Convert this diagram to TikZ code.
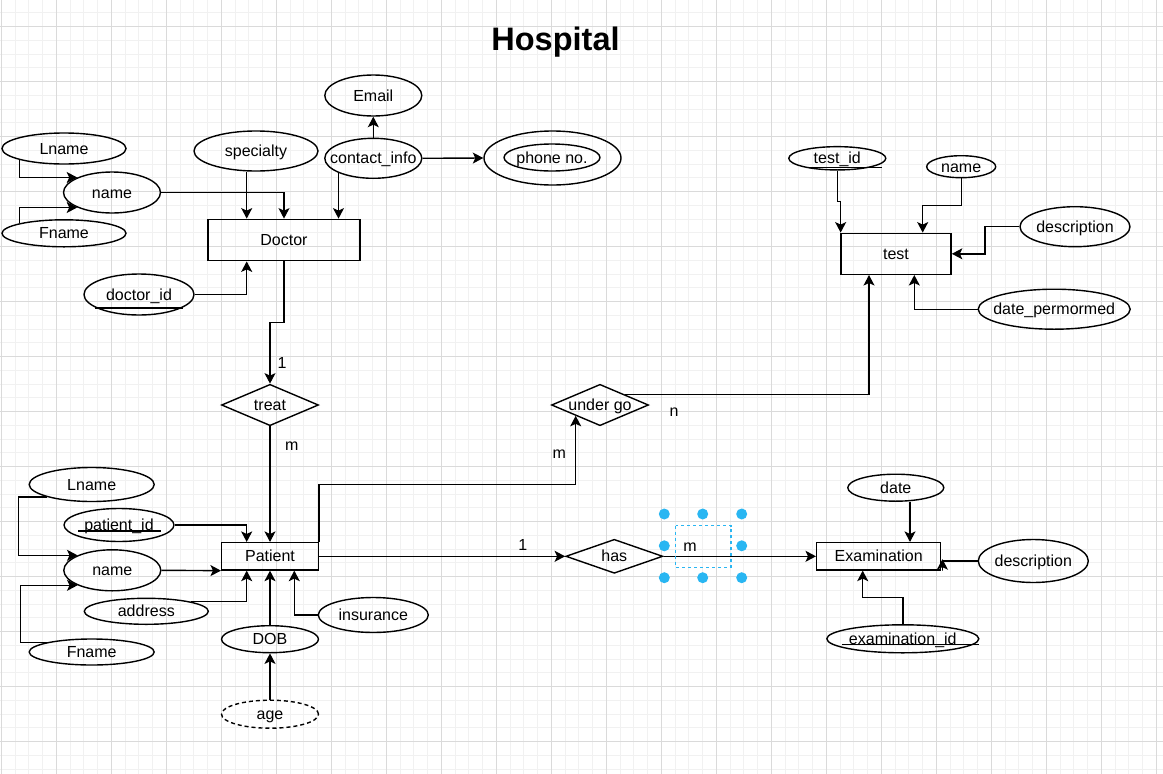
\documentclass[tikz,border=0pt]{standalone}
\usepackage{fontspec}
\setmainfont{Liberation Sans}
\usetikzlibrary{shapes.geometric,arrows.meta,calc}
\newcommand\T[1]{\smash{\makebox[0pt]{\raisebox{-0.35em}{#1}}}}
\definecolor{gmaj}{HTML}{DADADA}
\definecolor{gmin}{HTML}{F1F1F1}
\definecolor{selblue}{HTML}{29B6F2}
\begin{document}
\begin{tikzpicture}[x=1pt,y=-1pt,
  every node/.style={font=\fontsize{16}{19}\selectfont, inner sep=0pt, text=black},
  ent/.style 2 args={draw, rectangle, line width=1.4pt, minimum width=#1, minimum height=#2},
  ell/.style 2 args={draw, ellipse, line width=1.4pt, minimum width=#1, minimum height=#2},
  rel/.style 2 args={draw, diamond, line width=1.4pt, minimum width=#1, minimum height=#2},
  arr/.style={draw, line width=1.4pt, -{Stealth[length=10.5pt,width=11pt,inset=2.5pt]}},
  uline/.style={draw, line width=1.2pt},
  handle/.style={fill=selblue, draw=none},
]
\useasboundingbox (0,0) rectangle (1163,774);
\fill[white] (0,0) rectangle (1163,774);
% grid
\foreach \i in {0,...,84} \draw[gmin, line width=0.9pt] ({1.3+13.75*\i},0) -- ++(0,774);
\foreach \j in {-1,...,54} \draw[gmin, line width=0.9pt] (0,{26.5+13.75*\j}) -- ++(1163,0);
\foreach \i in {0,...,21} \draw[gmaj, line width=1pt] ({1.3+55*\i},0) -- ++(0,774);
\foreach \j in {0,...,13} \draw[gmaj, line width=1pt] (0,{26.5+55*\j}) -- ++(1163,0);

% title
\node[font=\bfseries\fontsize{32.5}{38}\selectfont, anchor=base] (title) at (555.5,50.7) {Hospital};

% Doctor
\node[ent={152}{41.4}] (doctor) at (284,240) {\T{Doctor}};
\node[ell={124}{31}] (dLname) at (64,148.5) {\T{Lname}};
\node[ell={97}{41}] (dname) at (112,192.5) {\T{name}};
\node[ell={124}{27}] (dFname) at (64,233.3) {\T{Fname}};
\node[ell={124}{40}] (specialty) at (256,151) {\T{specialty}};
\node[ell={97}{40}] (contact) at (373.3,158.3) {\T{contact\_info}};
\node[ell={97}{41}] (email) at (373.3,95.5) {\T{Email}};
\node[ell={137}{54}] (phone) at (552.5,158) {};
\node[ell={96}{27}] (phonein) at (552,157.5) {\T{phone no.}};
\node[ell={110}{41}] (doctorid) at (139,294.5) {\T{doctor\_id}};

% test
\node[ent={110.3}{41}] (test) at (896,253.8) {\T{test}};
\node[ell={97}{23.3}] (testid) at (837.3,158.3) {\T{test\_id}};
\node[ell={69}{22}] (tname) at (961.2,166.7) {\T{name}};
\node[ell={110}{40}] (tdesc) at (1075,226.7) {\T{description}};
\node[ell={152}{40}] (datep) at (1054.2,309.2) {\T{date\_permormed}};

% relationships
\node[rel={97}{41.4}] (treat) at (270,405) {\T{treat}};
\node[rel={97}{41.4}] (undergo) at (600,405) {\T{under go}};
\node[rel={97}{34}] (has) at (614.3,556.3) {\T{has}};

% Patient
\node[ent={96.7}{27.3}] (patient) at (270,556.3) {\T{Patient}};
\node[ell={125}{34}] (pLname) at (91.7,484.5) {\T{Lname}};
\node[ell={110}{33}] (patientid) at (119,525) {\T{patient\_id}};
\node[ell={97}{41}] (pname) at (112.3,570.3) {\T{name}};
\node[ell={124}{26}] (address) at (146.3,611.3) {\T{address}};
\node[ell={125}{26}] (pFname) at (91.7,652) {\T{Fname}};
\node[ell={97}{27}] (dob) at (270,639.2) {\T{DOB}};
\node[ell={97}{28}, dash pattern=on 4pt off 3pt] (age) at (270,714.2) {\T{age}};
\node[ell={110}{35}] (insurance) at (373.3,615) {\T{insurance}};

% Examination
\node[ent={124}{27.3}] (exam) at (878.7,556.3) {\T{Examination}};
\node[ell={96}{27}] (edate) at (895.8,487.7) {\T{date}};
\node[ell={110}{43}] (edesc) at (1033.3,561) {\T{description}};
\node[ell={152}{28}] (examid) at (902.8,638.8) {\T{examination\_id}};

% underlines of keys
\draw[uline] (95,308) -- (182.7,308);
\draw[uline] (810,167.7) -- (881.7,167.7);
\draw[uline] (78.3,531) -- (160.7,531);
\draw[uline] (841.7,644.3) -- (979,644.3);

% Doctor connectors
\draw[arr] (dLname.south west) |- (dname.north west);
\draw[arr] (dFname.north west) |- (dname.south west);
\draw[arr] (dname.east) -| (doctor.north);
\draw[arr] ([xshift=-9.3pt]specialty.south) -- ([xshift=-37.3pt]doctor.north);
\draw[arr] (contact.south west) -- (contact.south west |- doctor.north);
\draw[arr] (contact.north) -- (email.south);
\draw[arr] (contact.east) -- (phone.west);
\draw[arr] (doctorid.east) -| ([xshift=-37.3pt]doctor.south);
\draw[arr] (doctor.south) -- (doctor.south |- 0,322.3) -| (treat.north);
\node (l1) at (282,362.7) {\T{1}};
\draw[arr] (treat.south) -- (patient.north);
\node (lm1) at (291.7,445) {\T{m}};
\draw[arr] (patient.north east) -- (patient.north east |- 0,484.3) -| (undergo.204.7);
\node (lm2) at (559.3,452.7) {\T{m}};
\draw[arr] (undergo.23.2) -| ([xshift=-27pt]test.south);
\node (ln) at (674,411) {\T{n}};

% test connectors
\draw[arr] (testid.south) -- (testid.south |- 0,201.7) -| ([xshift=0.5pt]test.north west);
\draw[arr] (tname.south) -- (tname.south |- 0,205.7) -| ([xshift=26.7pt]test.north);
\draw[arr] (tdesc.west) -- (tdesc.west -| 985,0) |- (test.east);
\draw[arr] (datep.west) -| ([xshift=18.3pt]test.south);

% Patient connectors
\draw[arr] (pLname.south west) -- (pLname.south west -| 18.3,0) |- (pname.north west);
\draw[arr] (pFname.north west) -- (pFname.north west -| 20.7,0) |- (pname.south west);
\draw[arr] (patientid.east) -| ([xshift=-23.3pt]patient.north);
\draw[arr] (pname.east) -- (patient.south west);
\draw[arr] (address.north east) -| ([xshift=-23.3pt]patient.south);
\draw[arr] (dob.north) -- (patient.south);
\draw[arr] (age.north) -- (dob.south);
\draw[arr] (insurance.west) -| ([xshift=24.3pt]patient.south);
\draw[arr] (patient.east) -- (has.west);
\node (l1b) at (522.7,545) {\T{1}};
\draw[arr] (has.east) -- (exam.west);

% Examination connectors
\draw[arr] ([xshift=14.2pt]edate.south) -- ([xshift=31.3pt]exam.north);
\draw[arr] (edesc.west) -- ([xshift=1pt]exam.east |- edesc.west) -- ([xshift=1pt]exam.south east) -- ([xshift=1pt,yshift=11.5pt]exam.south east);
\draw[arr] (examid.north) -- (examid.north |- 0,597.3) -| ([xshift=-16pt]exam.south);

% selected label m
\node (lm3) at (690,546) {\T{m}};
\draw[draw=selblue, line width=1.3pt, dash pattern=on 3pt off 3pt] (675.7,525.7) rectangle (731,567.3);
\foreach \hx in {664.3,702.7,741.7} {
  \fill[handle] (\hx,514) circle (5.5);
  \fill[handle] (\hx,577.7) circle (5.5);
}
\fill[handle] (664.3,545.8) circle (5.5);
\fill[handle] (741.7,545.8) circle (5.5);
\end{tikzpicture}
\end{document}
